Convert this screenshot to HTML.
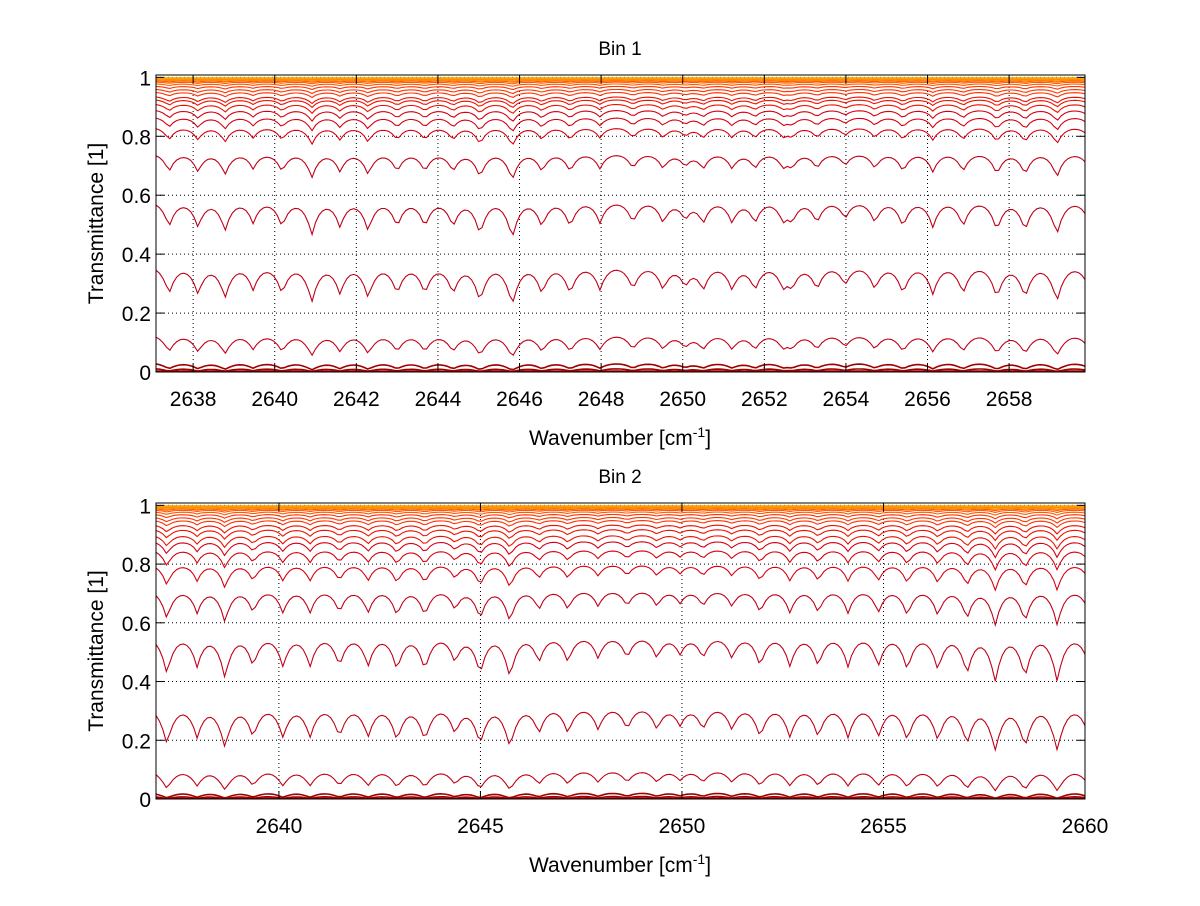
<!DOCTYPE html>
<html><head><meta charset="utf-8"><style>
body{margin:0;background:#fff;}
svg text{font-family:"Liberation Sans",sans-serif;fill:#000;}
</style></head><body>
<svg id="fig" width="1200" height="901" viewBox="0 0 1200 901" xmlns="http://www.w3.org/2000/svg">
<rect width="1200" height="901" fill="#fff"/>
</svg>
<script>
// ---- data ----
const lineCenters1 = [2637.41,2638.12,2638.78,2639.47,2640.18,2640.91,2641.6,2642.29,2643.0,2643.68,2644.37,2645.03,2645.82,2646.55,2647.24,2647.97,2648.78,2649.52,2650.06,2650.5,2651.21,2651.77,2652.46,2652.68,2653.29,2653.98,2654.71,2655.4,2656.13,2656.87,2657.7,2658.39,2659.17,2660.0];
const lineStrengths1 = [0.3,0.3,0.35,0.25,0.3,0.4,0.3,0.35,0.3,0.3,0.3,0.4,0.45,0.3,0.3,0.25,0.25,0.25,0.2,0.25,0.25,0.25,0.2,0.2,0.25,0.2,0.25,0.3,0.3,0.3,0.35,0.35,0.4,0.3];
const levels1 = [0.002,0.004,0.012,0.03,0.125,0.355,0.575,0.74,0.83,0.865,0.89,0.91,0.925,0.935,0.95,0.96,0.97,0.978,0.984,0.988,0.991,0.994,0.996,0.998,0.999];
const lineCenters2 = [2637.22,2637.97,2638.66,2639.36,2640.1,2640.77,2641.5,2642.21,2642.93,2643.62,2644.37,2644.99,2645.73,2646.45,2647.17,2647.92,2648.64,2649.38,2649.95,2650.52,2651.24,2651.94,2652.68,2653.38,2654.12,2654.87,2655.59,2656.35,2657.07,2657.77,2658.51,2659.31,2660.1];
const lineStrengths2 = [0.45,0.35,0.5,0.35,0.35,0.35,0.35,0.35,0.4,0.4,0.3,0.45,0.5,0.3,0.3,0.25,0.25,0.25,0.2,0.25,0.25,0.35,0.35,0.35,0.35,0.35,0.4,0.4,0.45,0.55,0.5,0.55,0.35];
const levels2 = [0.001,0.003,0.01,0.022,0.098,0.31,0.55,0.71,0.80,0.85,0.88,0.9,0.92,0.935,0.95,0.96,0.97,0.978,0.984,0.988,0.991,0.994,0.996,0.998,0.999];
const xTicks1 = [2638,2640,2642,2644,2646,2648,2650,2652,2654,2656,2658];
const xTicks2 = [2640,2645,2650,2655,2660];
const yTicks = [0,0.2,0.4,0.6,0.8,1];
const yTickLabels = ["0","0.2","0.4","0.6","0.8","1"];

const NS = "http://www.w3.org/2000/svg";
const svg = document.getElementById('fig');
function mk(tag, attrs, parent){const e=document.createElementNS(NS,tag);for(const k in attrs)e.setAttribute(k,attrs[k]);(parent||svg).appendChild(e);return e;}

function colorFor(level){
  if(level<0.05) return '#a00000';
  if(level<0.8) return '#c00018';
  if(level<0.9) return '#d80010';
  if(level<0.95) return '#ee1100';
  if(level<0.975) return '#ff3300';
  if(level<0.99) return '#ff5a00';
  if(level<0.997) return '#ff8a00';
  return '#f5b000';
}

function drawPanel(id, top, bottom, xmin, xmax, centers, strengths, levels, xticks, title){
  const L=156, R=1085;
  const ymax = 1.008;
  const xs = v => L + (v - xmin) / (xmax - xmin) * (R - L);
  const ys = v => bottom - v / ymax * (bottom - top);
  const g = mk('g',{});
  
  
  const clipId = id + '-clip';
  const cp = mk('clipPath',{id:clipId},g);
  mk('rect',{x:L,y:top,width:R-L,height:bottom-top},cp);
  const grid = mk('g',{stroke:'#000','stroke-width':1,'stroke-dasharray':'1,3'},g);
  
  
  xticks.forEach(t=>{const x=xs(t); if(x>L+1&&x<R-1) mk('line',{x1:x,x2:x,y1:top,y2:bottom},grid);});
  yTicks.forEach(t=>{const y=ys(t); if(y>top+1&&y<bottom-1) mk('line',{x1:L,x2:R,y1:y,y2:y},grid);});
  const step = 0.085;
  const nus = [];
  for(let v=xmin; v<=xmax+step; v+=step) nus.push(v);
  const A = nus.map(v=>{let s=0; for(let k=0;k<centers.length;k++){const d=Math.abs(v-centers[k]); s+=strengths[k]*Math.exp(-d/0.17);} return s;});
  const amin = 0.02;
  const series = mk('g',{'clip-path':'url(#'+clipId+')',fill:'none','stroke-width':1.1},g);
  
  
  levels.forEach((lev,i)=>{
    const tau = -Math.log(lev);
    let d='';
    nus.forEach((v,j)=>{const T=Math.exp(-tau*(1+Math.max(0,A[j]-amin))); d+=(j?'L':'M')+xs(v).toFixed(1)+' '+ys(T).toFixed(1);});
    const p = mk('path',{d:d,stroke:colorFor(lev),'stroke-width':lev<0.05?1.6:1.1},series);
    
    
  });
  const box = mk('rect',{x:L,y:top,width:R-L,height:bottom-top,fill:'none',stroke:'#000','stroke-width':1},g);
  
  
  xticks.forEach(t=>{const x=xs(t);
    mk('line',{x1:x,x2:x,y1:bottom,y2:bottom-8,stroke:'#000'},g);
    mk('line',{x1:x,x2:x,y1:top,y2:top+8,stroke:'#000'},g);
    const tx=mk('text',{x:x,y:bottom+34,'text-anchor':'middle','font-size':21},g); tx.textContent=t;
    
    
  });
  yTicks.forEach((t,i)=>{const y=ys(t);
    mk('line',{x1:L,x2:L+8,y1:y,y2:y,stroke:'#000'},g);
    mk('line',{x1:R,x2:R-8,y1:y,y2:y,stroke:'#000'},g);
    const tx=mk('text',{x:L-5,y:y+8,'text-anchor':'end','font-size':21},g); tx.textContent=yTickLabels[i];
    
    
  });
  const tt=mk('text',{x:620,y:top-20,'text-anchor':'middle','font-size':19},g); tt.textContent=title;
  
  
  const xl=mk('text',{x:620,y:bottom+73,'text-anchor':'middle','font-size':21},g);
  xl.innerHTML='Wavenumber [cm<tspan dy="-8" font-size="14">-1</tspan><tspan dy="8">]</tspan>';
  
  
  const cy=(top+bottom)/2;
  const yl=mk('text',{x:103,y:cy,'text-anchor':'middle','font-size':21,transform:'rotate(-90 103 '+cy+')'},g);
  yl.textContent='Transmittance [1]';
  
  
}
drawPanel('bin1-panel',75,372,2637.09,2659.86,lineCenters1,lineStrengths1,levels1,xTicks1,'Bin 1');
drawPanel('bin2-panel',503,799,2636.95,2660,lineCenters2,lineStrengths2,levels2,xTicks2,'Bin 2');
</script>
</body></html>
